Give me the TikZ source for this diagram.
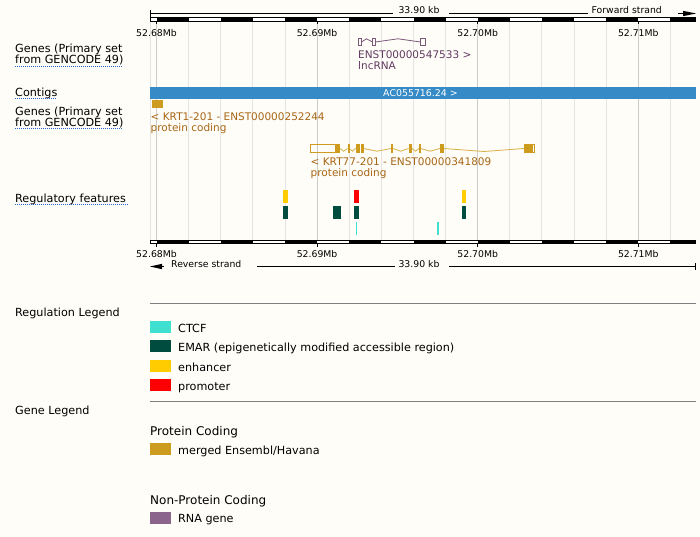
\documentclass[tikz,border=0pt]{standalone}
\usepackage{fontspec}
\setmainfont{DejaVu Sans}
\usetikzlibrary{arrows}
\definecolor{bgcream}{RGB}{254,253,247}
\definecolor{gridminor}{RGB}{228,228,228}
\definecolor{gridmajor}{RGB}{204,204,204}
\definecolor{linkblue}{RGB}{40,100,205}
\definecolor{contigblue}{RGB}{54,139,199}
\definecolor{pcgold}{RGB}{205,155,29}
\definecolor{pcintron}{RGB}{215,175,70}
\definecolor{genetext}{RGB}{168,102,22}
\definecolor{rnaline}{RGB}{125,88,125}
\definecolor{rnatext}{RGB}{98,58,98}
\definecolor{rnagene}{RGB}{139,101,139}
\definecolor{ctcfcol}{RGB}{64,224,208}
\definecolor{emarcol}{RGB}{0,77,64}
\definecolor{enhcol}{RGB}{255,204,0}
\definecolor{promcol}{RGB}{255,0,0}
\definecolor{legline}{RGB}{128,128,128}

\begin{document}
\begin{tikzpicture}[line join=miter,x=1.0pt,y=-1.0pt,
		tracklbl/.style={font=\fontsize{11.2}{13}\selectfont,anchor=base west,inner sep=0pt},
		rulerlbl/.style={font=\fontsize{9.3}{11}\selectfont,anchor=base,inner sep=0pt},
		genelbl/.style={font=\fontsize{10.5}{12}\selectfont,anchor=base west,inner sep=0pt,text=genetext},
		headlbl/.style={font=\fontsize{12}{14}\selectfont,anchor=base west,inner sep=0pt},
		uline/.style={line width=1pt,color=linkblue,dash pattern=on 1pt off 1pt}]
		\useasboundingbox (0,0) rectangle (700,537);
		\fill[color=bgcream] (0,0) rectangle (700,537);
		\draw [line width=1pt,color=gridminor] (150.5,22)-- (150.5,240);
		\draw [line width=1pt,color=gridmajor] (156.5,22)-- (156.5,240);
		\draw [line width=1pt,color=gridminor] (188.6,22)-- (188.6,240);
		\draw [line width=1pt,color=gridminor] (220.7,22)-- (220.7,240);
		\draw [line width=1pt,color=gridminor] (252.9,22)-- (252.9,240);
		\draw [line width=1pt,color=gridminor] (285.0,22)-- (285.0,240);
		\draw [line width=1pt,color=gridmajor] (317.1,22)-- (317.1,240);
		\draw [line width=1pt,color=gridminor] (349.2,22)-- (349.2,240);
		\draw [line width=1pt,color=gridminor] (381.3,22)-- (381.3,240);
		\draw [line width=1pt,color=gridminor] (413.5,22)-- (413.5,240);
		\draw [line width=1pt,color=gridminor] (445.6,22)-- (445.6,240);
		\draw [line width=1pt,color=gridmajor] (477.7,22)-- (477.7,240);
		\draw [line width=1pt,color=gridminor] (509.8,22)-- (509.8,240);
		\draw [line width=1pt,color=gridminor] (541.9,22)-- (541.9,240);
		\draw [line width=1pt,color=gridminor] (574.1,22)-- (574.1,240);
		\draw [line width=1pt,color=gridminor] (606.2,22)-- (606.2,240);
		\draw [line width=1pt,color=gridmajor] (638.3,22)-- (638.3,240);
		\draw [line width=1pt,color=gridminor] (670.4,22)-- (670.4,240);
		% top ruler
		\draw [line width=1pt] (150.5,10)-- (150.5,17);
		\draw [line width=1pt] (150.5,13.5)-- (393,13.5);
		\node[rulerlbl] (toplen) at (419,14) {33.90 kb};
		\draw [line width=1pt] (449,13.5)-- (588,13.5);
		\node[rulerlbl,anchor=base west] (fwdstrand) at (591.5,14) {Forward strand};
		\draw [line width=1pt] (678,13.5)-- (685,13.5);
		\fill (683,10.8)-- (696,13.5)-- (683,16.2)-- cycle;
		\draw [line width=1pt,fill=white] (150.5,18)rectangle (695.5,21.5);
		\fill (156.5,18)rectangle (188.6,21.5);
		\fill (220.7,18)rectangle (252.9,21.5);
		\fill (285.0,18)rectangle (317.1,21.5);
		\fill (349.2,18)rectangle (381.3,21.5);
		\fill (413.5,18)rectangle (445.6,21.5);
		\fill (477.7,18)rectangle (509.8,21.5);
		\fill (541.9,18)rectangle (574.1,21.5);
		\fill (606.2,18)rectangle (638.3,21.5);
		\fill (670.4,18)rectangle (696,21.5);
		\draw [line width=1pt] (156.5,21.5)-- (156.5,24.5);
		\draw [line width=1pt] (317.1,21.5)-- (317.1,24.5);
		\draw [line width=1pt] (477.7,21.5)-- (477.7,24.5);
		\draw [line width=1pt] (638.3,21.5)-- (638.3,24.5);
		\node[rulerlbl] (topmba) at (156.5,36.5) {52.68Mb};
		\node[rulerlbl] (topmbb) at (317.1,36.5) {52.69Mb};
		\node[rulerlbl] (topmbc) at (477.7,36.5) {52.70Mb};
		\node[rulerlbl] (topmbd) at (638.3,36.5) {52.71Mb};
		% track names
		\node[tracklbl] (fwdgenesa) at (15,52.5) {Genes (Primary set};
		\node[tracklbl] (fwdgenesb) at (15,64) {from GENCODE 49)};
		\draw [uline] (15,66.5)-- (123,66.5);
		\node[tracklbl] (contigs) at (15,96.5) {Contigs};
		\draw [uline] (15,98.5)-- (57,98.5);
		\node[tracklbl] (revgenesa) at (15,115.5) {Genes (Primary set};
		\node[tracklbl] (revgenesb) at (15,127) {from GENCODE 49)};
		\draw [uline] (15,129)-- (123,129);
		\node[tracklbl] (regfeat) at (15,202.5) {Regulatory features};
		\draw [uline] (15,204.5)-- (129,204.5);
		% lncRNA
		\draw [line width=1pt,color=rnaline] (358.5,38.5)rectangle (361.5,45.5);
		\draw [line width=1pt,color=rnaline] (372.5,38.5)rectangle (375.5,45.5);
		\draw [line width=1pt,color=rnaline] (420.5,38.5)rectangle (425.5,45.5);
		\draw [line width=0.8pt,color=rnaline] (361.5,42)-- (366.5,38.8)-- (372.5,42);
		\draw [line width=0.8pt,color=rnaline] (375.5,42)-- (398,38.8)-- (420.5,42);
		\node[genelbl,text=rnatext] (lncname) at (358,59) {ENST00000547533 >};
		\node[genelbl,text=rnatext] (lnctype) at (358,69.5) {lncRNA};
		% contig
		\fill[color=contigblue] (150,87)rectangle (696,99);
		\node[rulerlbl,text=white,font=\fontsize{9.4}{11}\selectfont] (contigname) at (420.5,96.5) {AC055716.24 >};
		% KRT1
		\fill[color=pcgold] (152,100)rectangle (163,108.5);
		\node[genelbl] (krtonename) at (150.5,120.7) {< KRT1-201 - ENST00000252244};
		\node[genelbl] (krtonetype) at (150.5,131.5) {protein coding};
		% KRT77
		\draw [line width=0.8pt,color=pcintron] (340,148.5)-- (343.7,151.2)-- (347.5,148.5);
		\draw [line width=0.8pt,color=pcintron] (349.5,148.5)-- (352.5,151.2)-- (355.5,148.5);
		\draw [line width=0.8pt,color=pcintron] (363.5,148.5)-- (377,151.2)-- (391,148.5);
		\draw [line width=0.8pt,color=pcintron] (393,148.5)-- (400.7,151.2)-- (408.5,148.5);
		\draw [line width=0.8pt,color=pcintron] (412,148.5)-- (415.5,151.2)-- (419,148.5);
		\draw [line width=0.8pt,color=pcintron] (420.5,148.5)-- (430.2,151.2)-- (440,148.5);
		\draw [line width=0.8pt,color=pcintron] (443.5,148.5)-- (484,151.5)-- (524,148.5);
		\draw [line width=1pt,color=pcgold] (310.5,144.5)rectangle (335.5,152.5);
		\fill[color=pcgold] (335,144)rectangle (340,153);
		\fill[color=pcgold] (347.5,144)rectangle (349.5,153);
		\fill[color=pcgold] (355.5,144)rectangle (360,153);
		\fill[color=pcgold] (360.7,144)rectangle (363.5,153);
		\fill[color=pcgold] (391,144)rectangle (393,153);
		\fill[color=pcgold] (408.5,144)rectangle (412,153);
		\fill[color=pcgold] (419,144)rectangle (420.5,153);
		\fill[color=pcgold] (440,144)rectangle (443.5,153);
		\fill[color=pcgold] (524,144)rectangle (532,153);
		\draw [line width=1pt,color=pcgold] (532,144.5)rectangle (534.5,152.5);
		\node[genelbl] (krtsevname) at (310.5,165.7) {< KRT77-201 - ENST00000341809};
		\node[genelbl] (krtsevtype) at (310.5,176.3) {protein coding};
		% regulation
		\fill[color=enhcol] (283,190)rectangle (288,203);
		\fill[color=promcol] (354,190)rectangle (359,203);
		\fill[color=enhcol] (462,190)rectangle (466,203);
		\fill[color=emarcol] (283,206)rectangle (288,219);
		\fill[color=emarcol] (333,206)rectangle (341,219);
		\fill[color=emarcol] (354,206)rectangle (359,219);
		\fill[color=emarcol] (462,206)rectangle (466,219);
		\fill[color=ctcfcol] (355.7,222)rectangle (357.3,235);
		\fill[color=ctcfcol] (437,222)rectangle (439,235);
		% bottom ruler
		\draw [line width=1pt,fill=white] (150.5,240)rectangle (695.5,243.5);
		\fill (156.5,240)rectangle (188.6,243.5);
		\fill (220.7,240)rectangle (252.9,243.5);
		\fill (285.0,240)rectangle (317.1,243.5);
		\fill (349.2,240)rectangle (381.3,243.5);
		\fill (413.5,240)rectangle (445.6,243.5);
		\fill (477.7,240)rectangle (509.8,243.5);
		\fill (541.9,240)rectangle (574.1,243.5);
		\fill (606.2,240)rectangle (638.3,243.5);
		\fill (670.4,240)rectangle (696,243.5);
		\draw [line width=1pt] (156.5,243.5)-- (156.5,246.5);
		\draw [line width=1pt] (317.1,243.5)-- (317.1,246.5);
		\draw [line width=1pt] (477.7,243.5)-- (477.7,246.5);
		\draw [line width=1pt] (638.3,243.5)-- (638.3,246.5);
		\node[rulerlbl] (botmba) at (156.5,257.5) {52.68Mb};
		\node[rulerlbl] (botmbb) at (317.1,257.5) {52.69Mb};
		\node[rulerlbl] (botmbc) at (477.7,257.5) {52.70Mb};
		\node[rulerlbl] (botmbd) at (638.3,257.5) {52.71Mb};
		\fill (150,266.5)-- (162,263.8)-- (162,269.2)-- cycle;
		\draw [line width=1pt] (160,266.5)-- (163.5,266.5);
		\node[rulerlbl,anchor=base west] (revstrand) at (171,267) {Reverse strand};
		\draw [line width=1pt] (257,266.5)-- (395,266.5);
		\node[rulerlbl] (botlen) at (419,267) {33.90 kb};
		\draw [line width=1pt] (449,266.5)-- (696,266.5);
		\draw [line width=1pt] (695.5,263)-- (695.5,270);
		% legends
		\node[tracklbl] (reglegend) at (15,316) {Regulation Legend};
		\draw [line width=1pt,color=legline] (150,303.5)-- (696,303.5);
		\fill[color=ctcfcol] (150,321)rectangle (171,333);
		\node[tracklbl] (legctcf) at (178,332) {CTCF};
		\fill[color=emarcol] (150,340)rectangle (171,352);
		\node[tracklbl] (legemar) at (178,351.5) {EMAR (epigenetically modified accessible region)};
		\fill[color=enhcol] (150,360)rectangle (171,372);
		\node[tracklbl] (legenh) at (178,371) {enhancer};
		\fill[color=promcol] (150,379)rectangle (171,391);
		\node[tracklbl] (legprom) at (178,390) {promoter};
		\draw [line width=1pt,color=legline] (150,401.5)-- (696,401.5);
		\node[tracklbl] (genelegend) at (15,414) {Gene Legend};
		\node[headlbl] (pchead) at (150,435) {Protein Coding};
		\fill[color=pcgold] (150,443)rectangle (171,455);
		\node[tracklbl] (legmerged) at (178,454) {merged Ensembl/Havana};
		\node[headlbl] (npchead) at (150,504) {Non-Protein Coding};
		\fill[color=rnagene] (150,512)rectangle (171,524);
		\node[tracklbl] (legrna) at (178,522.5) {RNA gene};
	\end{tikzpicture}
\end{document}
